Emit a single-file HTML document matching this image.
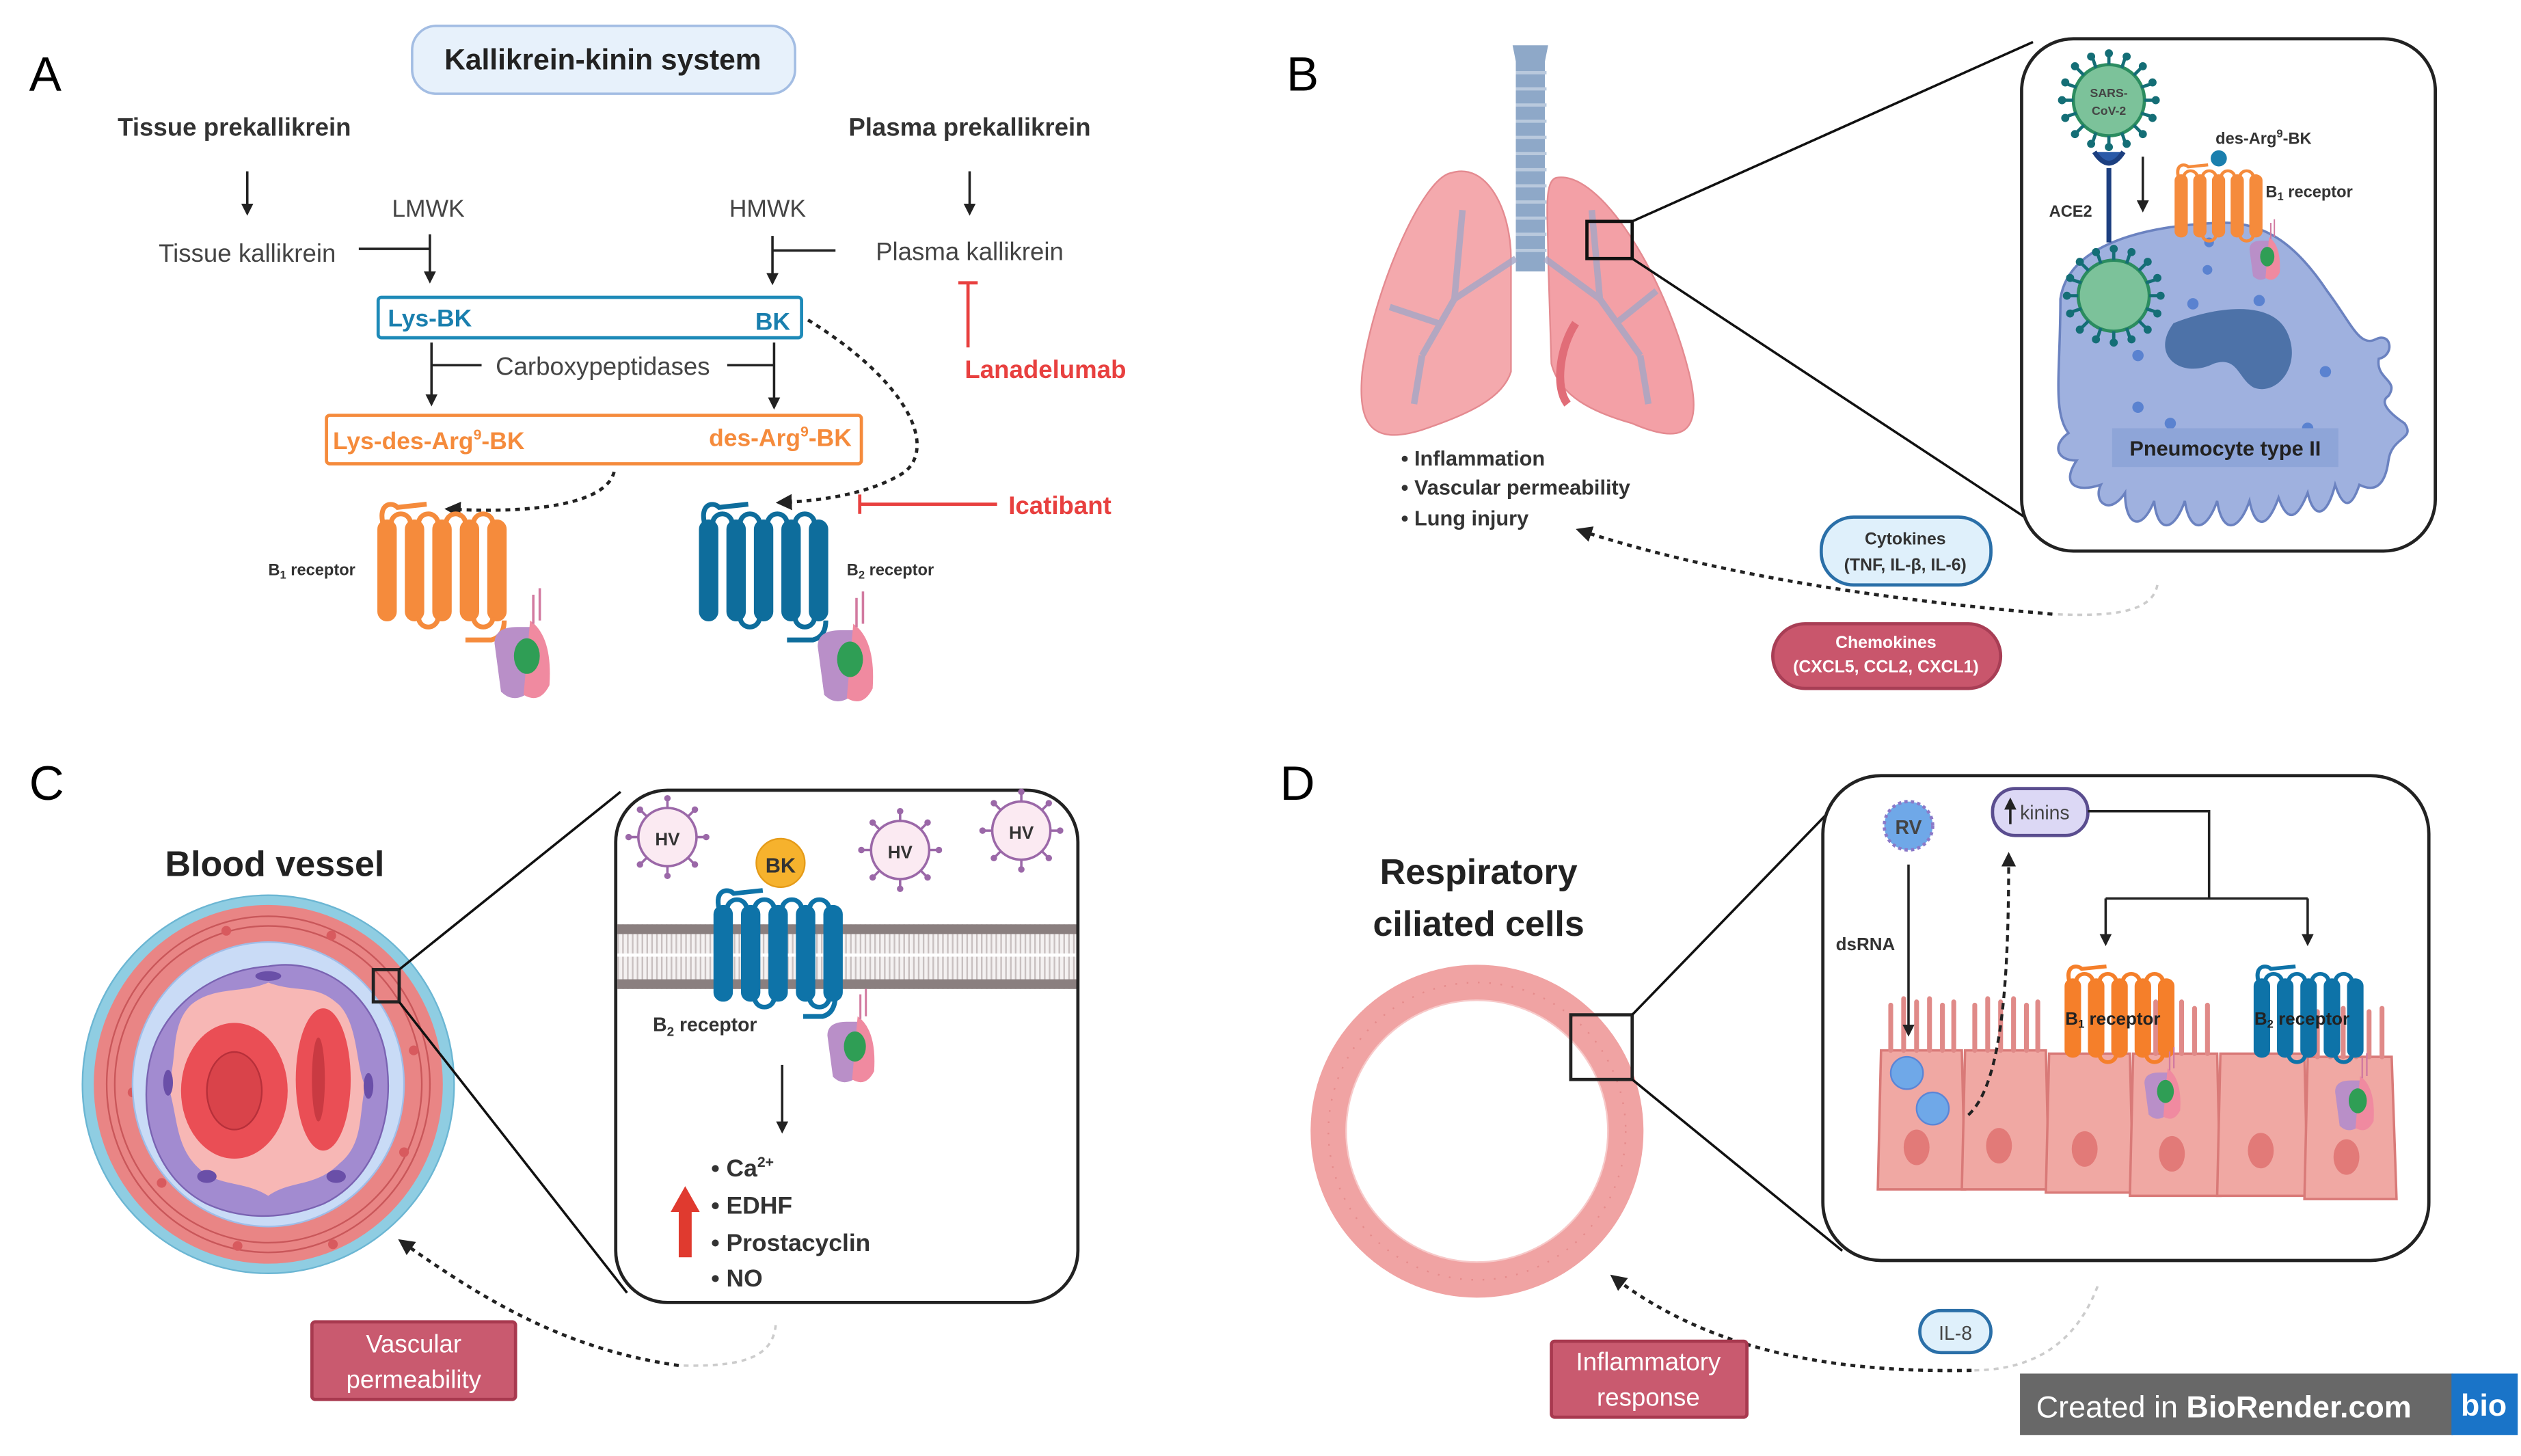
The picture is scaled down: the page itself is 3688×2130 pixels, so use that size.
<!DOCTYPE html>
<html><head><meta charset="utf-8"><style>
html,body{margin:0;padding:0;background:#fff;}
svg{display:block;}
text{font-family:"Liberation Sans",sans-serif;}
</style></head><body>
<svg width="3688" height="2130" viewBox="0 0 1560 901" xmlns="http://www.w3.org/2000/svg">
<defs>
<marker id="ah" viewBox="0 0 10 10" refX="8" refY="5" markerWidth="5" markerHeight="5" orient="auto"><path d="M0,0L10,5L0,10z" fill="#222"/></marker>
<g id="rec">
 <rect x="0" y="10" width="11" height="62" rx="5.5"/>
 <rect x="17" y="10" width="11" height="62" rx="5.5"/>
 <rect x="34" y="10" width="11" height="62" rx="5.5"/>
 <rect x="51" y="10" width="11" height="62" rx="5.5"/>
 <rect x="68" y="10" width="11" height="62" rx="5.5"/>
 <path d="M8,12 a6,6 0 0 1 12,0 M42,12 a6,6 0 0 1 12,0 M25,70 a6,6 0 0 0 12,0 M59,70 a6,6 0 0 0 12,0 M25,12 a6,6 0 0 1 12,0 M59,12 a6,6 0 0 1 12,0" fill="none" stroke-width="3"/>
 <path d="M3,12 C0,0 8,-2 12,2 L30,0" fill="none" stroke-width="3"/>
</g>
<g id="gp">
 <path d="M0,8 q0,-10 14,-10 l8,0 l0,40 q-10,8 -18,0 z" fill="#b98fc8"/>
 <path d="M22,-6 q14,10 12,40 q-6,12 -16,6 z" fill="#f08aa0"/>
 <ellipse cx="20" cy="16" rx="8" ry="11" fill="#2f9e55"/>
 <path d="M24,-22 v18 M28,-26 v20" stroke="#d27aa0" stroke-width="1.5"/>
</g>
<g id="vir">
 <circle r="18" fill="#fbeaf2" stroke="#9b68a8" stroke-width="1.5"/>
 <g stroke="#9b68a8" stroke-width="1.5">
 <path d="M0,-18v-5M0,18v5M-18,0h-5M18,0h5M12.7,12.7l4,4M-12.7,12.7l-4,4M12.7,-12.7l4,-4M-12.7,-12.7l-4,-4"/>
 </g>
 <g fill="#9b68a8"><circle cx="0" cy="-24" r="2"/><circle cx="0" cy="24" r="2"/><circle cx="-24" cy="0" r="2"/><circle cx="24" cy="0" r="2"/><circle cx="17" cy="17" r="2"/><circle cx="-17" cy="17" r="2"/><circle cx="17" cy="-17" r="2"/><circle cx="-17" cy="-17" r="2"/></g>
</g>
<g id="cov">
 <circle r="22" fill="#7cc29a" stroke="#2b8c5f" stroke-width="2"/>
 <g stroke="#146e76" stroke-width="2"><path d="M0,-22v-6M0,22v6M-22,0h-6M22,0h6M15.5,15.5l4,4M-15.5,15.5l-4,4M15.5,-15.5l4,-4M-15.5,-15.5l-4,-4M8,-20l2,-6M-8,-20l-2,-6M8,20l2,6M-8,20l-2,6M20,8l6,2M-20,8l-6,2M20,-8l6,-2M-20,-8l-6,-2"/></g>
 <g fill="#146e76"><circle cx="0" cy="-29" r="2.5"/><circle cx="0" cy="29" r="2.5"/><circle cx="-29" cy="0" r="2.5"/><circle cx="29" cy="0" r="2.5"/><circle cx="21" cy="21" r="2.5"/><circle cx="-21" cy="21" r="2.5"/><circle cx="21" cy="-21" r="2.5"/><circle cx="-21" cy="-21" r="2.5"/><circle cx="11" cy="-27" r="2.5"/><circle cx="-11" cy="-27" r="2.5"/><circle cx="11" cy="27" r="2.5"/><circle cx="-11" cy="27" r="2.5"/><circle cx="27" cy="11" r="2.5"/><circle cx="-27" cy="11" r="2.5"/><circle cx="27" cy="-11" r="2.5"/><circle cx="-27" cy="-11" r="2.5"/></g>
</g>
<pattern id="lip" width="3" height="10" patternUnits="userSpaceOnUse"><rect width="3" height="10" fill="#f4f1f1"/><rect x="1" width="1" height="10" fill="#c8c0c0"/></pattern>
</defs>

<!-- ===== PANEL A ===== -->
<text x="18" y="56" font-size="30">A</text>
<rect x="255" y="16" width="237" height="42" rx="15" fill="#e7f1fb" stroke="#a3bde3" stroke-width="1.5"/>
<text x="373" y="43" font-size="18" font-weight="bold" text-anchor="middle" fill="#222">Kallikrein-kinin system</text>
<text x="145" y="84" font-size="15.5" font-weight="bold" text-anchor="middle" fill="#333">Tissue prekallikrein</text>
<text x="600" y="84" font-size="15.5" font-weight="bold" text-anchor="middle" fill="#333">Plasma prekallikrein</text>
<g stroke="#222" stroke-width="1.5" fill="none" marker-end="url(#ah)">
 <line x1="153" y1="106" x2="153" y2="132"/>
 <line x1="600" y1="106" x2="600" y2="132"/>
 <line x1="266" y1="145" x2="266" y2="174"/>
 <line x1="478" y1="146" x2="478" y2="175"/>
 <line x1="267" y1="212" x2="267" y2="250"/>
 <line x1="479" y1="212" x2="479" y2="252"/>
</g>
<g stroke="#222" stroke-width="1.5"><line x1="222" y1="154" x2="266" y2="154"/><line x1="478" y1="155" x2="517" y2="155"/><line x1="267" y1="226" x2="298" y2="226"/><line x1="450" y1="226" x2="479" y2="226"/></g>
<text x="265" y="134" font-size="15" text-anchor="middle" fill="#444">LMWK</text>
<text x="475" y="134" font-size="15" text-anchor="middle" fill="#444">HMWK</text>
<text x="153" y="162" font-size="15.5" text-anchor="middle" fill="#444">Tissue kallikrein</text>
<text x="600" y="161" font-size="15.5" text-anchor="middle" fill="#444">Plasma kallikrein</text>
<g stroke="#e8403f" stroke-width="2"><line x1="599" y1="175" x2="599" y2="215"/><line x1="593" y1="175" x2="605" y2="175"/><line x1="532" y1="312" x2="617" y2="312"/><line x1="532" y1="306" x2="532" y2="318"/></g>
<text x="597" y="234" font-size="15.5" font-weight="bold" fill="#e8403f">Lanadelumab</text>
<text x="624" y="318" font-size="15.5" font-weight="bold" fill="#e8403f">Icatibant</text>
<rect x="234" y="184" width="262" height="25" rx="2" fill="#fff" stroke="#1e8ab8" stroke-width="2"/>
<text x="240" y="202" font-size="15" font-weight="bold" fill="#1a7fae">Lys-BK</text>
<text x="489" y="204" font-size="15" font-weight="bold" fill="#1a7fae" text-anchor="end">BK</text>
<text x="373" y="232" font-size="15.5" text-anchor="middle" fill="#444">Carboxypeptidases</text>
<rect x="202" y="257" width="331" height="30" rx="2" fill="#fff" stroke="#f58b3c" stroke-width="2"/>
<text x="206" y="278" font-size="15" font-weight="bold" fill="#f58b3c">Lys-des-Arg<tspan font-size="9" dy="-6">9</tspan><tspan dy="6">-BK</tspan></text>
<text x="527" y="276" font-size="15" font-weight="bold" fill="#f58b3c" text-anchor="end">des-Arg<tspan font-size="9" dy="-6">9</tspan><tspan dy="6">-BK</tspan></text>
<g stroke="#222" stroke-width="2" stroke-dasharray="3,3" fill="none" marker-end="url(#ah)">
 <path d="M500,198 C560,235 580,275 560,292 C540,305 510,310 482,311"/>
 <path d="M380,292 C375,312 330,318 277,315"/>
</g>
<g fill="#f58b3c" stroke="#f58b3c"><use href="#rec" x="234" y="312"/></g>
<g fill="#0e6d9c" stroke="#0e6d9c"><use href="#rec" x="433" y="312"/></g>
<path d="M312,384 q0,10 -8,12 h-16" stroke="#f58b3c" stroke-width="3" fill="none"/>
<path d="M511,384 q0,10 -8,12 h-16" stroke="#0e6d9c" stroke-width="3" fill="none"/>
<use href="#gp" x="306" y="390"/>
<use href="#gp" x="506" y="392"/>
<text x="166" y="356" font-size="10" font-weight="bold" fill="#333">B<tspan font-size="7" dy="2">1</tspan><tspan dy="-2"> receptor</tspan></text>
<text x="524" y="356" font-size="10" font-weight="bold" fill="#333">B<tspan font-size="7" dy="2">2</tspan><tspan dy="-2"> receptor</tspan></text>

<!-- ===== PANEL B ===== -->
<text x="796" y="56" font-size="30">B</text>
<path d="M898,107 C880,110 850,180 843,230 C840,262 848,276 880,266 C910,256 930,246 935,230 L935,160 C935,130 920,100 898,107 Z" fill="#f4a9ad" stroke="#e48a90"/>
<path d="M963,110 C990,105 1030,170 1045,230 C1055,270 1040,275 1010,262 C985,255 965,245 960,225 L958,160 C958,135 955,112 963,110 Z" fill="#f3a0a6" stroke="#e48a90"/>
<path d="M975,200 C965,215 962,240 970,250" stroke="#e16d78" stroke-width="5" fill="none"/>
<path d="M936,28 h22 l-2,10 v130 h-18 v-130 z" fill="#8ea8c8"/>
<g stroke="#b9c9dd" stroke-width="2"><path d="M938,45h19M938,55h19M938,65h19M938,75h19M938,85h19M938,95h19M938,105h19M938,115h19M938,125h19M938,135h19M938,145h19M938,155h19"/></g>
<g stroke="#a3a6c6" stroke-width="4" fill="none" opacity="0.8">
 <path d="M938,160 L900,185 L880,220 M900,185 L905,130 M890,200 L860,190 M880,220 L875,250"/>
 <path d="M956,160 L990,185 L1015,220 M990,185 L985,130 M1000,200 L1025,180 M1015,220 L1020,250"/>
</g>
<rect x="982" y="137" width="28" height="23" fill="none" stroke="#111" stroke-width="2"/>
<g stroke="#111" stroke-width="1.5"><line x1="1010" y1="137" x2="1258" y2="26"/><line x1="1010" y1="160" x2="1262" y2="326"/></g>
<rect x="1251" y="24" width="256" height="317" rx="32" fill="#fff" stroke="#222" stroke-width="2"/>
<path d="M1275,185 C1280,150 1330,140 1370,138 C1400,136 1420,150 1440,180 C1455,200 1460,215 1470,210 C1480,205 1482,220 1472,222 C1470,235 1485,235 1478,245 C1470,250 1485,260 1488,262 C1495,272 1480,270 1478,285 C1476,300 1470,305 1460,300 C1455,315 1450,315 1445,300 C1440,320 1432,322 1428,305 C1422,320 1416,325 1410,308 C1402,330 1395,325 1392,310 C1385,330 1375,330 1372,310 C1365,330 1355,330 1352,310 C1345,330 1335,330 1333,310 C1325,330 1315,325 1315,305 C1305,320 1295,310 1300,300 C1285,305 1275,300 1285,285 C1272,285 1270,275 1280,268 C1270,255 1275,230 1275,185 Z" fill="#9fb1df" stroke="#6b82c0" stroke-width="1.5"/>
<path d="M1345,200 C1370,190 1405,185 1415,205 C1425,225 1410,245 1395,240 C1385,235 1385,220 1370,225 C1350,235 1330,220 1345,200 Z" fill="#4d72a8"/>
<g fill="#5a82d0"><circle cx="1367" cy="150" r="3"/><circle cx="1366" cy="167" r="3"/><circle cx="1357" cy="188" r="3.5"/><circle cx="1439" cy="230" r="3.5"/><circle cx="1398" cy="186" r="3.5"/><circle cx="1323" cy="252" r="3.5"/><circle cx="1343" cy="262" r="3.5"/><circle cx="1428" cy="265" r="3.5"/><circle cx="1323" cy="220" r="3.5"/></g>
<rect x="1307" y="265" width="140" height="24" fill="#8ea5d8"/>
<text x="1377" y="282" font-size="13" font-weight="bold" text-anchor="middle" fill="#222">Pneumocyte type II</text>
<use href="#cov" x="1308" y="183"/>
<use href="#cov" x="1305" y="62"/>
<text x="1305" y="60" font-size="7.5" font-weight="bold" text-anchor="middle" fill="#444">SARS-</text>
<text x="1305" y="71" font-size="7.5" font-weight="bold" text-anchor="middle" fill="#444">CoV-2</text>
<path d="M1296,94 q9,14 18,0" fill="#2a5aa8" stroke="#1c3f80" stroke-width="3"/>
<line x1="1305" y1="104" x2="1305" y2="150" stroke="#1c3f80" stroke-width="3"/>
<text x="1268" y="134" font-size="10" font-weight="bold" fill="#333">ACE2</text>
<line x1="1326" y1="97" x2="1326" y2="130" stroke="#222" stroke-width="1.5" marker-end="url(#ah)"/>
<g fill="#f58b3c" stroke="#f58b3c" transform="translate(1346,102) scale(0.68,0.62)"><use href="#rec"/></g>
<circle cx="1373" cy="98" r="5" fill="#1a7fae"/>
<text x="1371" y="89" font-size="10" font-weight="bold" fill="#333">des-Arg<tspan font-size="7" dy="-4">9</tspan><tspan dy="4">-BK</tspan></text>
<text x="1402" y="122" font-size="10" font-weight="bold" fill="#333">B<tspan font-size="7" dy="2">1</tspan><tspan dy="-2"> receptor</tspan></text>
<use href="#gp" transform="translate(1392,150) scale(0.55)"/>
<g font-size="13" font-weight="bold" fill="#333"><text x="867" y="288">• Inflammation</text><text x="867" y="306">• Vascular permeability</text><text x="867" y="325">• Lung injury</text></g>
<path d="M1335,362 C1332,378 1310,382 1270,380" stroke="#ccc" stroke-width="1.5" stroke-dasharray="3,3" fill="none"/>
<path d="M1270,380 C1150,370 1050,352 977,328" stroke="#222" stroke-width="2" stroke-dasharray="3,3" fill="none" marker-end="url(#ah)"/>
<rect x="1127" y="320" width="105" height="42" rx="20" fill="#dff0fb" stroke="#2a6fa8" stroke-width="2"/>
<text x="1179" y="337" font-size="10.5" font-weight="bold" text-anchor="middle" fill="#333">Cytokines</text>
<text x="1179" y="353" font-size="10.5" font-weight="bold" text-anchor="middle" fill="#333">(TNF, IL-β, IL-6)</text>
<rect x="1097" y="386" width="141" height="40" rx="20" fill="#c9566c" stroke="#a83e55" stroke-width="2"/>
<text x="1167" y="401" font-size="10.5" font-weight="bold" text-anchor="middle" fill="#fff">Chemokines</text>
<text x="1167" y="416" font-size="10.5" font-weight="bold" text-anchor="middle" fill="#fff">(CXCL5, CCL2, CXCL1)</text>

<!-- ===== PANEL C ===== -->
<text x="18" y="495" font-size="30">C</text>
<text x="170" y="542" font-size="22" font-weight="bold" text-anchor="middle" fill="#222">Blood vessel</text>
<ellipse cx="166" cy="671" rx="115" ry="117" fill="#8fcde2" stroke="#6bb6d3"/>
<ellipse cx="166" cy="671" rx="108" ry="111" fill="#e98585"/>
<g stroke="#c9575a" fill="none" stroke-width="1"><ellipse cx="166" cy="671" rx="95" ry="98"/><ellipse cx="166" cy="671" rx="100" ry="104"/></g>
<g fill="#d85a5e"><circle cx="98" cy="628" r="3"/><circle cx="82" cy="676" r="3"/><circle cx="100" cy="732" r="3"/><circle cx="147" cy="771" r="3"/><circle cx="206" cy="770" r="3"/><circle cx="250" cy="713" r="3"/><circle cx="256" cy="650" r="3"/><circle cx="205" cy="579" r="3"/><circle cx="140" cy="576" r="3"/></g>
<ellipse cx="166" cy="671" rx="84" ry="88" fill="#c9dbf6" stroke="#9fbde8"/>
<path d="M166,598 C200,592 230,615 238,650 C246,690 232,730 200,745 C175,755 150,755 128,745 C98,730 86,695 92,660 C98,625 130,600 166,598 Z" fill="#a28bd0" stroke="#7a63b2"/>
<path d="M166,608 C185,615 195,608 210,622 C222,635 220,660 226,672 C222,690 225,708 210,720 C195,735 180,730 166,740 C150,730 135,735 122,722 C108,708 110,690 104,672 C110,655 105,635 118,622 C132,610 150,615 166,608 Z" fill="#f7b7b5"/>
<g fill="#6a4fa8"><ellipse cx="166" cy="604" rx="8" ry="3"/><ellipse cx="104" cy="670" rx="3" ry="8"/><ellipse cx="228" cy="672" rx="3" ry="8"/><ellipse cx="128" cy="728" rx="6" ry="4"/><ellipse cx="208" cy="728" rx="6" ry="4"/></g>
<ellipse cx="145" cy="675" rx="33" ry="42" fill="#ea4e55"/>
<ellipse cx="145" cy="675" rx="17" ry="24" fill="#d9434a" stroke="#b7303a"/>
<ellipse cx="200" cy="668" rx="17" ry="44" fill="#ea4e55"/>
<ellipse cx="197" cy="668" rx="4" ry="26" fill="#c93a42"/>
<rect x="231" y="600" width="16" height="20" fill="none" stroke="#222" stroke-width="2"/>
<g stroke="#111" stroke-width="1.5"><line x1="247" y1="600" x2="384" y2="490"/><line x1="247" y1="620" x2="388" y2="800"/></g>
<rect x="381" y="489" width="286" height="317" rx="32" fill="#fff" stroke="#222" stroke-width="2"/>
<rect x="382" y="572" width="284" height="40" fill="url(#lip)"/>
<rect x="382" y="572" width="284" height="6" fill="#8a7f7f"/>
<rect x="382" y="606" width="284" height="6" fill="#8a7f7f"/>
<rect x="382" y="590" width="284" height="2" fill="#fff"/>
<g fill="#0e73a8" stroke="#0e73a8" transform="translate(442,551) scale(1,0.95)"><use href="#rec"/></g>
<path d="M517,615 q0,12 -8,14 h-12" stroke="#0e73a8" stroke-width="3" fill="none"/>
<use href="#gp" transform="translate(512,634) scale(0.85)"/>
<circle cx="483" cy="534" r="15" fill="#f6b22d" stroke="#e59b18"/>
<text x="483" y="540" font-size="13" font-weight="bold" text-anchor="middle" fill="#333">BK</text>
<use href="#vir" x="413" y="518"/><text x="413" y="523" font-size="11" font-weight="bold" text-anchor="middle" fill="#333">HV</text>
<use href="#vir" x="557" y="526"/><text x="557" y="531" font-size="11" font-weight="bold" text-anchor="middle" fill="#333">HV</text>
<use href="#vir" x="632" y="514"/><text x="632" y="519" font-size="11" font-weight="bold" text-anchor="middle" fill="#333">HV</text>
<text x="404" y="638" font-size="12" font-weight="bold" fill="#333">B<tspan font-size="8" dy="3">2</tspan><tspan dy="-3"> receptor</tspan></text>
<line x1="484" y1="659" x2="484" y2="700" stroke="#222" stroke-width="1.5" marker-end="url(#ah)"/>
<path d="M420,778 V750 H415 L424,734 L433,750 H428 V778 Z" fill="#e03a2f"/>
<g font-size="15" font-weight="bold" fill="#333"><text x="440" y="728">• Ca<tspan font-size="9" dy="-6">2+</tspan></text><text x="440" y="751">• EDHF</text><text x="440" y="774">• Prostacyclin</text><text x="440" y="796">• NO</text></g>
<path d="M480,820 C478,840 460,846 420,845" stroke="#ccc" stroke-width="1.5" stroke-dasharray="3,3" fill="none"/>
<path d="M420,845 C350,835 300,805 248,768" stroke="#222" stroke-width="2" stroke-dasharray="3,3" fill="none" marker-end="url(#ah)"/>
<rect x="193" y="818" width="126" height="48" rx="2" fill="#c95a6f" stroke="#a8394f" stroke-width="2"/>
<text x="256" y="837" font-size="15.5" text-anchor="middle" fill="#fff">Vascular</text>
<text x="256" y="859" font-size="15.5" text-anchor="middle" fill="#fff">permeability</text>

<!-- ===== PANEL D ===== -->
<text x="792" y="495" font-size="30">D</text>
<text x="915" y="547" font-size="22" font-weight="bold" text-anchor="middle" fill="#222">Respiratory</text>
<text x="915" y="579" font-size="22" font-weight="bold" text-anchor="middle" fill="#222">ciliated cells</text>
<circle cx="914" cy="700" r="92" fill="none" stroke="#f0a3a3" stroke-width="22"/>
<circle cx="914" cy="700" r="92" fill="none" stroke="#e58b8b" stroke-width="1" stroke-dasharray="1,6"/>
<circle cx="914" cy="700" r="81" fill="none" stroke="#f7c9c9" stroke-width="1"/>
<rect x="972" y="628" width="38" height="40" fill="none" stroke="#222" stroke-width="2"/>
<g stroke="#111" stroke-width="1.5"><line x1="1010" y1="628" x2="1136" y2="498"/><line x1="1010" y1="668" x2="1140" y2="774"/></g>
<rect x="1128" y="480" width="375" height="300" rx="36" fill="#fff" stroke="#222" stroke-width="2"/>
<g fill="#f0a8a3" stroke="#d97a78" stroke-width="1.5">
 <path d="M1164,650 h50 l2,86 h-54 z"/>
 <path d="M1216,650 h50 l2,86 h-54 z"/>
 <path d="M1268,652 h50 l2,86 h-54 z"/>
 <path d="M1320,652 h52 l2,88 h-56 z"/>
 <path d="M1374,652 h52 l2,88 h-56 z"/>
 <path d="M1428,654 h52 l3,88 h-57 z"/>
</g>
<g fill="#e27a78"><ellipse cx="1186" cy="710" rx="8" ry="11"/><ellipse cx="1237" cy="709" rx="8" ry="11"/><ellipse cx="1290" cy="711" rx="8" ry="11"/><ellipse cx="1344" cy="714" rx="8" ry="11"/><ellipse cx="1399" cy="712" rx="8" ry="11"/><ellipse cx="1452" cy="716" rx="8" ry="11"/></g>
<g stroke="#e08a88" stroke-width="3" fill="none" stroke-linecap="round">
 <path d="M1170,650v-28M1178,650v-32M1186,650v-30M1194,650v-32M1202,650v-28M1209,650v-30"/>
 <path d="M1222,650v-28M1230,650v-32M1238,650v-30M1246,650v-32M1254,650v-28M1261,650v-30"/>
 <path d="M1326,652v-28M1334,652v-32M1342,652v-30M1350,652v-32M1358,652v-28M1366,652v-30"/>
 <path d="M1434,654v-28M1442,654v-32M1450,654v-30M1458,654v-32M1466,654v-28M1474,654v-30"/>
</g>
<g fill="#f57f2a" stroke="#f57f2a" transform="translate(1278,598) scale(0.85,0.78)"><use href="#rec"/></g>
<g fill="#0e73a8" stroke="#0e73a8" transform="translate(1395,598) scale(0.85,0.78)"><use href="#rec"/></g>
<use href="#gp" transform="translate(1327,665) scale(0.65)"/>
<use href="#gp" transform="translate(1445,670) scale(0.7)"/>
<text x="1278" y="634" font-size="11" font-weight="bold" fill="#222">B<tspan font-size="7" dy="2">1</tspan><tspan dy="-2"> receptor</tspan></text>
<text x="1395" y="634" font-size="11" font-weight="bold" fill="#222">B<tspan font-size="7" dy="2">2</tspan><tspan dy="-2"> receptor</tspan></text>
<circle cx="1180" cy="664" r="10" fill="#6fa8e8" stroke="#5b85d6"/>
<circle cx="1196" cy="686" r="10" fill="#6fa8e8" stroke="#5b85d6"/>
<circle cx="1181" cy="511" r="15" fill="#6fa8e8" stroke="#8b79c8" stroke-dasharray="2,2" stroke-width="2"/>
<text x="1181" y="516" font-size="12" font-weight="bold" text-anchor="middle" fill="#444">RV</text>
<line x1="1181" y1="535" x2="1181" y2="640" stroke="#222" stroke-width="1.5" marker-end="url(#ah)"/>
<text x="1136" y="588" font-size="11" font-weight="bold" fill="#333">dsRNA</text>
<path d="M1218,690 C1240,670 1243,600 1243,529" stroke="#222" stroke-width="1.8" stroke-dasharray="4,3" fill="none" marker-end="url(#ah)"/>
<rect x="1233" y="488" width="59" height="29" rx="14" fill="#dcd8f5" stroke="#5a4d8f" stroke-width="2"/>
<line x1="1244" y1="510" x2="1244" y2="495" stroke="#222" stroke-width="1.5" marker-end="url(#ah)"/>
<text x="1250" y="507" font-size="12" fill="#444">kinins</text>
<g stroke="#222" stroke-width="1.5" fill="none"><path d="M1292,502 H1367 V556 M1303,556 H1428"/></g>
<g stroke="#222" stroke-width="1.5" marker-end="url(#ah)"><line x1="1303" y1="556" x2="1303" y2="584"/><line x1="1428" y1="556" x2="1428" y2="584"/></g>
<path d="M1298,796 C1285,830 1260,848 1220,848" stroke="#ccc" stroke-width="1.5" stroke-dasharray="3,3" fill="none"/>
<path d="M1220,848 C1120,850 1050,830 998,790" stroke="#222" stroke-width="2" stroke-dasharray="3,3" fill="none" marker-end="url(#ah)"/>
<rect x="1188" y="811" width="44" height="26" rx="13" fill="#dff0fb" stroke="#2a6fa8" stroke-width="2"/>
<text x="1210" y="829" font-size="12" text-anchor="middle" fill="#444">IL-8</text>
<rect x="960" y="830" width="121" height="47" rx="2" fill="#c95a6f" stroke="#a8394f" stroke-width="2"/>
<text x="1020" y="848" font-size="15.5" text-anchor="middle" fill="#fff">Inflammatory</text>
<text x="1020" y="870" font-size="15.5" text-anchor="middle" fill="#fff">response</text>
<rect x="1250" y="850" width="268" height="38" fill="#686868"/>
<rect x="1517" y="850" width="41" height="38" fill="#1a74c8"/>
<text x="1260" y="877" font-size="19" fill="#fff">Created in <tspan font-weight="bold">BioRender.com</tspan></text>
<text x="1537" y="876" font-size="19" font-weight="bold" text-anchor="middle" fill="#fff">bio</text>
</svg>
</body></html>
